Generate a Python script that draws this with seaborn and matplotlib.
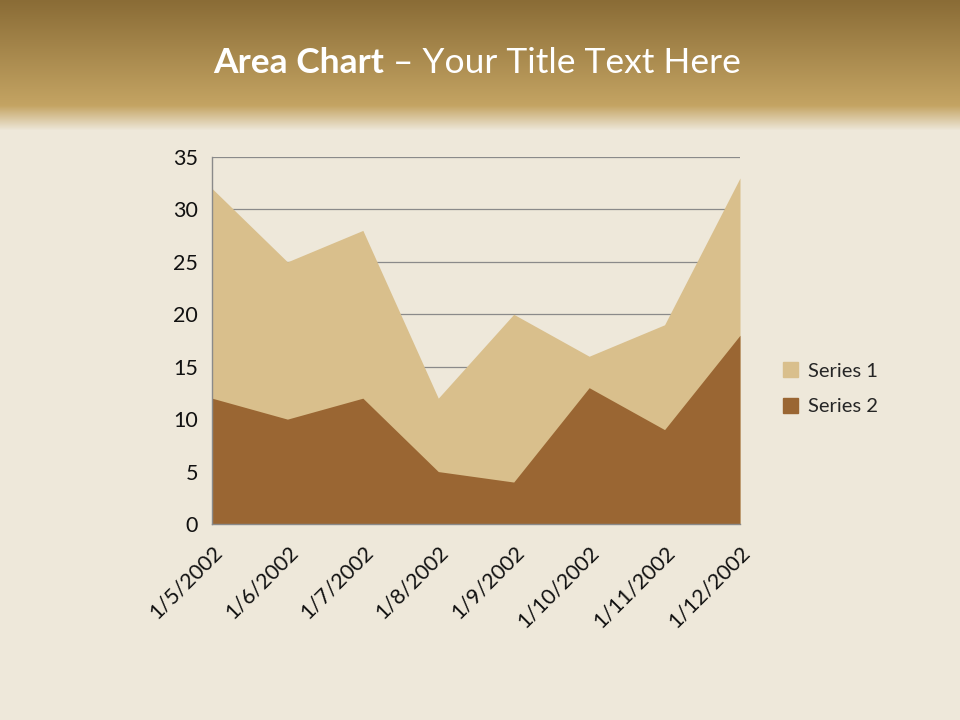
import numpy as np
import pandas as pd
import matplotlib.pyplot as plt
import seaborn as sns
from matplotlib.patches import Patch

# chart data
dates = ["1/5/2002", "1/6/2002", "1/7/2002", "1/8/2002",
         "1/9/2002", "1/10/2002", "1/11/2002", "1/12/2002"]
series1 = [32, 25, 28, 12, 20, 16, 19, 33]
series2 = [12, 10, 12, 5, 4, 13, 9, 18]

df = pd.DataFrame({"date": dates, "Series 1": series1, "Series 2": series2})
df["x"] = range(len(df))

sns.set_style("white")
plt.rcParams["font.family"] = ["Lato", "DejaVu Sans"]

fig = plt.figure(figsize=(9.6, 7.2), dpi=100)

# background: parchment + brown header band
bg = fig.add_axes([0, 0, 1, 1])
bg.axis("off")
top = np.array([0x8a, 0x6c, 0x36]) / 255
mid = np.array([0xc4, 0xa4, 0x63]) / 255
paper = np.array([0xee, 0xe8, 0xda]) / 255
rows = []
for y in range(720):
    if y < 105:
        t = y / 105
        c = top * (1 - t) + mid * t
    elif y < 130:
        t = (y - 105) / 25
        c = mid * (1 - t) + paper * t
    else:
        c = paper
    rows.append(c)
grad = np.array(rows)[:, None, :]
bg.imshow(grad, extent=[0, 1, 0, 1], aspect="auto", zorder=0)
bg.set_xlim(0, 1)
bg.set_ylim(0, 1)

fig.text(384 / 960, 0.913, "Area Chart", color="white", fontsize=25.5,
         fontweight="bold", ha="right", va="center")
fig.text(384 / 960, 0.913, " \u2013 Your Title Text Here", color="white",
         fontsize=25.5, ha="left", va="center")

ax = fig.add_axes([212 / 960, 1 - 524 / 720, 528 / 960, 367 / 720])
ax.set_facecolor("none")

c1 = "#d9bf8c"
c2 = "#9a6633"
ax.fill_between(df["x"], df["Series 1"], color=c1, lw=0, zorder=2)
ax.fill_between(df["x"], df["Series 2"], color=c2, lw=0, zorder=3)
sns.lineplot(data=df, x="x", y="Series 1", ax=ax, color=c1, lw=0)
sns.lineplot(data=df, x="x", y="Series 2", ax=ax, color=c2, lw=0)

ax.set_xlim(0, len(df) - 1)
ax.set_ylim(0, 35)
ax.set_yticks(range(0, 36, 5))
ax.set_xticks(df["x"])
ax.set_xticklabels(df["date"], rotation=45, ha="right", rotation_mode="anchor")
ax.set_xlabel("")
ax.set_ylabel("")
ax.grid(False)
for yv in range(5, 36, 5):
    ax.axhline(yv, color="#8a8a8a", lw=0.9, zorder=1)
ax.spines["top"].set_visible(False)
ax.spines["right"].set_visible(False)
ax.spines["right"].set_color("none")
for s in ["left", "bottom"]:
    ax.spines[s].set_color("#8a8a8a")
    ax.spines[s].set_linewidth(1)
    ax.spines[s].set_zorder(4)
ax.tick_params(axis="both", direction="out", length=6, color="#8a8a8a",
               labelsize=15.5, labelcolor="#111111", pad=4)
ax.tick_params(axis="x", pad=7)

handles = [Patch(color=c1, label="Series 1"), Patch(color=c2, label="Series 2")]
fig.legend(handles=handles, loc="center left", bbox_to_anchor=(0.797, 0.46),
           frameon=False, fontsize=14.5, handlelength=0.75, handleheight=0.75,
           handletextpad=0.5, labelspacing=0.9)

fig.savefig("out.png", dpi=100)
